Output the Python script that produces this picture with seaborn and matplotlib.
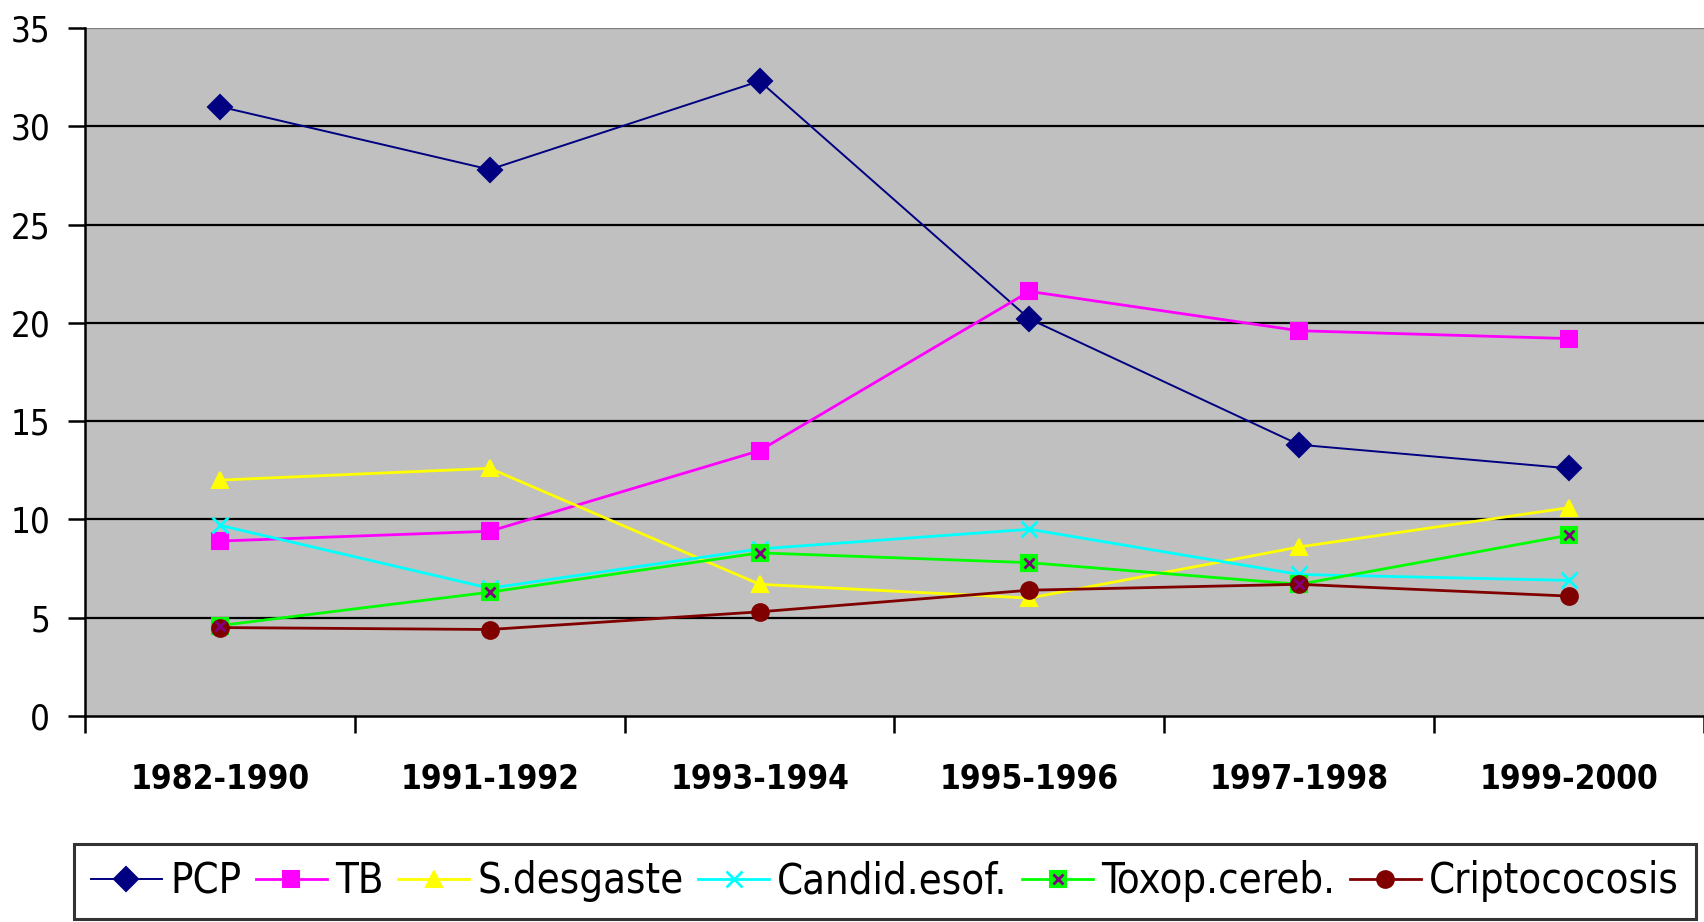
import matplotlib
matplotlib.use("Agg")
import matplotlib.pyplot as plt
from matplotlib.legend_handler import HandlerTuple
import seaborn as sns
import pandas as pd

# datos
periodos = ["1982-1990", "1991-1992", "1993-1994", "1995-1996", "1997-1998", "1999-2000"]
pcp = [31.0, 27.8, 32.3, 20.2, 13.8, 12.6]
tb = [8.9, 9.4, 13.5, 21.6, 19.6, 19.2]
s_desgaste = [12.0, 12.6, 6.7, 6.0, 8.6, 10.6]
candid = [9.7, 6.5, 8.5, 9.5, 7.2, 6.9]
toxop = [4.6, 6.3, 8.3, 7.8, 6.7, 9.2]
cripto = [4.5, 4.4, 5.3, 6.4, 6.7, 6.1]

nombres = ["PCP", "TB", "S.desgaste", "Candid.esof.", "Toxop.cereb.", "Criptococosis"]
series = [pcp, tb, s_desgaste, candid, toxop, cripto]
colores = ["#000080", "#FF00FF", "#FFFF00", "#00FFFF", "#00FF00", "#800000"]
marcadores = ["D", "s", "^", "x", "s", "o"]

plt.rcParams["font.family"] = ["DejaVu Sans"]
plt.rcParams["font.stretch"] = "condensed"
plt.rcParams["font.size"] = 30

fig = plt.figure(figsize=(17.04, 9.22), dpi=100)
ax = fig.add_axes([85 / 1704, 1 - 716 / 922, 1 - 85 / 1704, (716 - 28) / 922])
ax.set_facecolor("#C0C0C0")

lineas = []
for nombre, vals, c, m in zip(nombres, series, colores, marcadores):
    df = pd.DataFrame({"periodo": periodos, "valor": vals})
    sns.lineplot(data=df, x="periodo", y="valor", color=c, marker=m,
                 sort=False, ax=ax, linewidth=2, markersize=12,
                 markeredgecolor=c, markeredgewidth=1.5)
    ln = ax.lines[-1]
    ln.set_clip_on(False)
    lineas.append(ln)
lineas[0].set_linewidth(1.4)
lineas[3].set_markeredgewidth(2)

# relleno morado del marcador de Toxop.cereb.
extra, = ax.plot(range(len(periodos)), toxop, linestyle="none", marker="x",
                 color="#800080", markersize=7, markeredgewidth=2)

ax.set_xlim(-0.5, 5.5)
ax.set_ylim(0, 35)
ax.set_yticks(range(0, 36, 5))
ax.set_xlabel("")
ax.set_ylabel("")

for y in range(5, 35, 5):
    ax.axhline(y, color="black", lw=1.6, zorder=0.5)
ax.axhline(35, color="#808080", lw=1.6, zorder=0.5)

for s in ["top", "right"]:
    ax.spines[s].set_visible(False)
for s in ["left", "bottom"]:
    ax.spines[s].set_linewidth(1.8)
    ax.spines[s].set_color("black")

ax.set_xticks(range(len(periodos)))
ax.set_xticklabels(periodos, fontweight="bold", fontsize=24)
ax.set_xticks([i - 0.5 for i in range(len(periodos) + 1)], minor=True)
ax.tick_params(axis="x", which="major", length=0, pad=34)
ax.tick_params(axis="x", which="minor", length=12, width=1.8, direction="out")
ax.tick_params(axis="y", length=12, width=1.8, pad=13, labelsize=25)

handles = lineas[:4] + [(lineas[4], extra)] + lineas[5:]
leg = fig.legend(handles, nombres, loc="lower center",
                 bbox_to_anchor=((73 + 1697) / 2 / 1704, 3 / 922),
                 ncol=6, frameon=True, fancybox=False,
                 handlelength=1.7, handletextpad=0.2, columnspacing=0.35,
                 borderpad=0.4, borderaxespad=0,
                 handler_map={tuple: HandlerTuple(ndivide=1)})
leg.get_frame().set_edgecolor("black")
leg.get_frame().set_linewidth(2.2)

fig.savefig("out.png", dpi=100)
